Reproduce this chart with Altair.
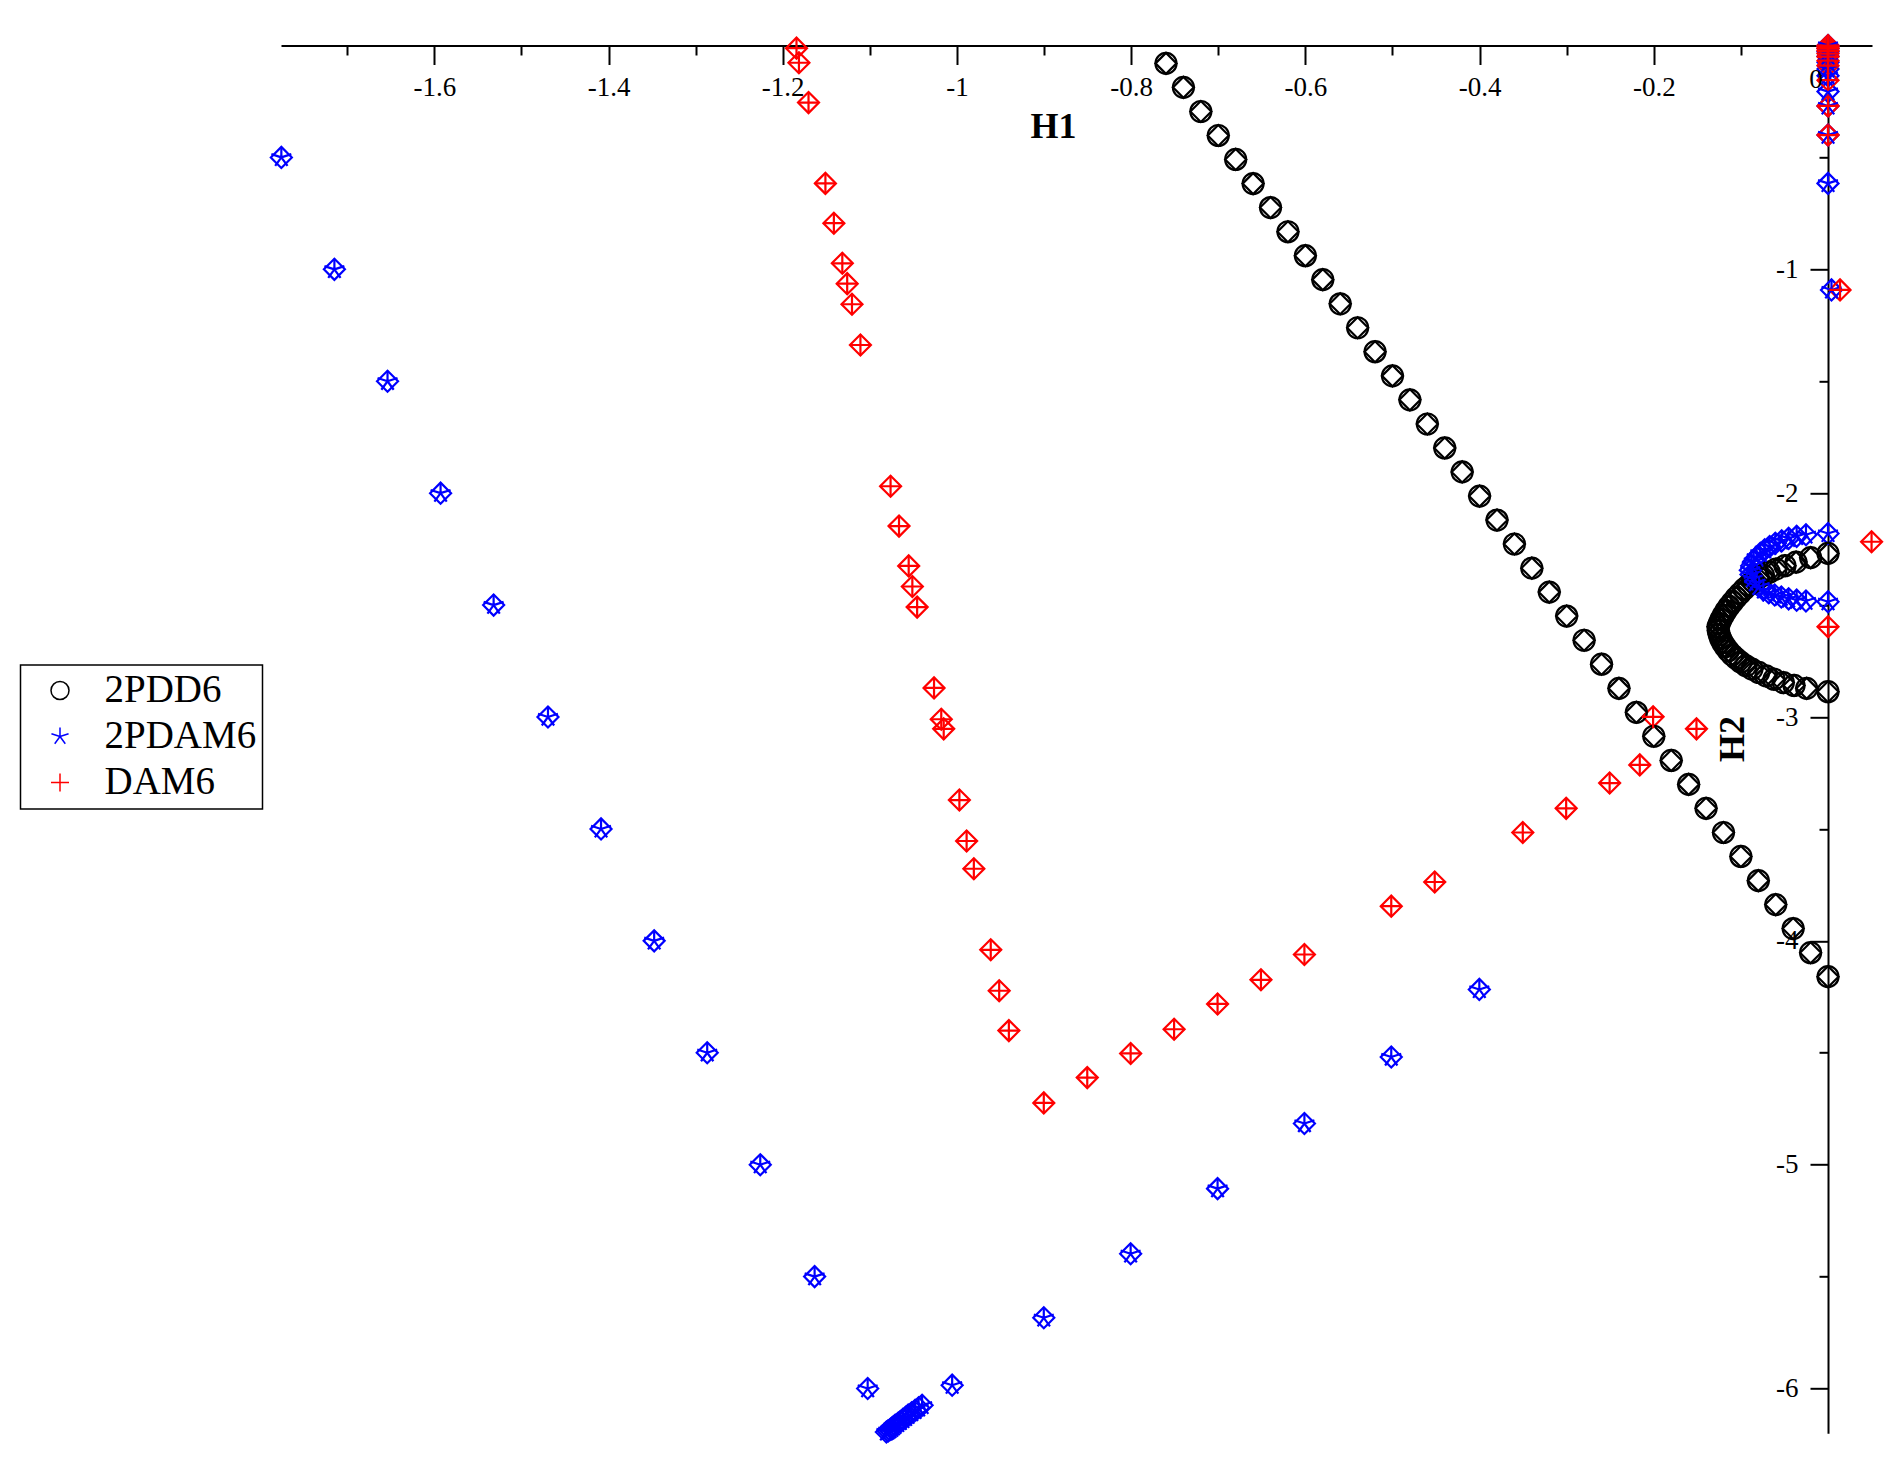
import altair as alt
import pandas as pd

# ---------------- data ----------------
series_names = ["2PDD6", "2PDAM6", "DAM6"]
series_colors = ["#000000", "#0000ff", "#ff0000"]

# 2PDD6 : straight branch + arc near the H2 axis
black_x = [-0.76, -0.74, -0.72, -0.70, -0.68, -0.66, -0.64, -0.62, -0.60, -0.58,
           -0.56, -0.54, -0.52, -0.50, -0.48, -0.46, -0.44, -0.42, -0.40, -0.38,
           -0.36, -0.34, -0.32, -0.30, -0.28, -0.26, -0.24, -0.22, -0.20, -0.18,
           -0.16, -0.14, -0.12, -0.10, -0.08, -0.06, -0.04, -0.02, 0.0,
           0.0, -0.0199, -0.0367, -0.0494, -0.0597, -0.0674, -0.0742, -0.0800, -0.0857, -0.0911,
           -0.0961, -0.1010, -0.1056, -0.1098, -0.1137, -0.1171, -0.1202, -0.1228, -0.1248, -0.1263,
           -0.1259, -0.1248, -0.1232, -0.1209, -0.1179, -0.1144, -0.1102, -0.1056, -0.1003, -0.0941,
           -0.0873, -0.0796, -0.0712, -0.0620, -0.0513, -0.0390, -0.0245, 0.0]
black_y = [-0.080, -0.187, -0.295, -0.402, -0.509, -0.617, -0.724, -0.832, -0.939, -1.046,
           -1.154, -1.261, -1.368, -1.476, -1.583, -1.691, -1.798, -1.905, -2.013, -2.120,
           -2.227, -2.335, -2.442, -2.549, -2.657, -2.764, -2.872, -2.979, -3.086, -3.194,
           -3.301, -3.408, -3.516, -3.623, -3.731, -3.838, -3.945, -4.053, -4.160,
           -2.269, -2.288, -2.308, -2.324, -2.339, -2.353, -2.366, -2.379, -2.394, -2.411,
           -2.428, -2.448, -2.467, -2.487, -2.506, -2.525, -2.545, -2.564, -2.582, -2.597,
           -2.615, -2.633, -2.650, -2.668, -2.686, -2.704, -2.722, -2.738, -2.755, -2.771,
           -2.786, -2.801, -2.816, -2.831, -2.846, -2.859, -2.872, -2.887]

# 2PDAM6
blue_x = [-1.7756, -1.7147, -1.6537, -1.5928, -1.5319, -1.4695, -1.4086, -1.3476, -1.2867, -1.2258,
          -1.1634, -1.1025,
          -1.040, -1.044, -1.048, -1.052, -1.056, -1.059, -1.062, -1.065, -1.068, -1.071,
          -1.073, -1.075, -1.077, -1.079, -1.081,
          -1.0055, -0.9003, -0.8006, -0.7008, -0.6011, -0.5014, -0.4003,
          0.0, 0.0, 0.0, 0.0, 0.0, 0.0, 0.0, 0.0, 0.0, 0.0, 0.0, 0.004,
          0.0, -0.0253, -0.0360, -0.0452, -0.0532, -0.0605, -0.0670, -0.0727, -0.0777, -0.0819,
          -0.0853, -0.0876, -0.0892, -0.0884, -0.0865, -0.0834, -0.0792, -0.0742, -0.0681, -0.0612,
          -0.0536, -0.0452, -0.0360, -0.0253, 0.0]
blue_y = [-0.5, -1.0, -1.5, -2.0, -2.5, -3.0, -3.5, -4.0, -4.5, -5.0,
          -5.5, -6.0,
          -6.075, -6.086, -6.097, -6.108, -6.119, -6.129, -6.138, -6.147, -6.156, -6.164,
          -6.171, -6.178, -6.184, -6.189, -6.194,
          -5.985, -5.684, -5.398, -5.107, -4.816, -4.519, -4.217,
          0.0, -0.012, -0.028, -0.048, -0.075, -0.105, -0.135, -0.206, -0.270, -0.400, -0.616, -1.092,
          -2.180, -2.186, -2.193, -2.202, -2.213, -2.224, -2.238, -2.253, -2.269, -2.287,
          -2.305, -2.324, -2.344, -2.363, -2.382, -2.400, -2.417, -2.432, -2.445, -2.455,
          -2.464, -2.472, -2.478, -2.482, -2.485]

# DAM6
red_x = [-1.1842, -1.1814, -1.1704, -1.1510, -1.1413, -1.1316, -1.1260, -1.1205, -1.1108,
         -1.0762, -1.0665, -1.0554, -1.0512, -1.0457, -1.0263, -1.0180, -1.0152,
         -0.9972, -0.9889, -0.9806, -0.9612, -0.9515, -0.9404, -0.9003,
         -0.8504, -0.8006, -0.7507, -0.7008, -0.6510, -0.6011, -0.5014, -0.4515,
         -0.3504, -0.3006, -0.2507, -0.2161, -0.2008, -0.1510,
         0.0, 0.0, 0.0, 0.0, 0.0, 0.0, 0.0, 0.0, 0.0, 0.0, 0.0,
         0.0138, 0.050, 0.0]
red_y = [-0.012, -0.077, -0.255, -0.616, -0.794, -0.973, -1.064, -1.156, -1.338,
         -1.969, -2.147, -2.325, -2.417, -2.509, -2.870, -3.010, -3.053,
         -3.371, -3.554, -3.678, -4.040, -4.223, -4.401, -4.724,
         -4.611, -4.503, -4.395, -4.282, -4.174, -4.061, -3.845, -3.737,
         -3.516, -3.408, -3.295, -3.214, -2.999, -3.053,
         0.0, -0.006, -0.014, -0.024, -0.036, -0.050, -0.068, -0.090, -0.155, -0.270, -0.400,
         -1.092, -2.217, -2.597]

# axes
x_major_ticks = [-1.6, -1.4, -1.2, -1.0, -0.8, -0.6, -0.4, -0.2]
x_major_labels = ["-1.6", "-1.4", "-1.2", "-1", "-0.8", "-0.6", "-0.4", "-0.2"]
x_minor_ticks = [-1.7, -1.5, -1.3, -1.1, -0.9, -0.7, -0.5, -0.3, -0.1]
y_major_ticks = [-1, -2, -3, -4, -5, -6]
y_major_labels = ["-1", "-2", "-3", "-4", "-5", "-6"]
y_minor_ticks = [-0.5, -1.5, -2.5, -3.5, -4.5, -5.5]
origin_label = ["0"]
x_title = "H1"
y_title = "H2"

x_domain = [-1.776, 0.0505]
y_domain = [-6.2, 0.05]

# ---------------- layout ----------------
W, H = 1591, 1399
plot_left, plot_top = 281.0, 34.3
x_axis_offset = -(0 - y_domain[0]) / (y_domain[1] - y_domain[0]) * H
y_axis_offset = -(0 - x_domain[0]) / (x_domain[1] - x_domain[0]) * W
FONT = "Liberation Serif"

rows = []
for name, xs, ys in [(series_names[0], black_x, black_y),
                     (series_names[1], blue_x, blue_y),
                     (series_names[2], red_x, red_y)]:
    for a, b in zip(xs, ys):
        rows.append({"H1": a, "H2": b, "series": name})
df = pd.DataFrame(rows)
zero_df = pd.DataFrame({"H1": [0.0], "H2": [0.0], "label": origin_label})


def label_expr(vals, labs):
    v = "[" + ",".join(repr(float(t)) for t in vals) + "]"
    l = "[" + ",".join("'" + s + "'" for s in labs) + "]"
    return f"indexof({v}, datum.value) >= 0 ? {l}[indexof({v}, datum.value)] : ''"


def major_test(vals):
    v = "[" + ",".join(repr(float(t)) for t in vals) + "]"
    return f"indexof({v}, datum.value) >= 0"


x_axis = alt.Axis(
    orient="bottom", offset=x_axis_offset, values=x_major_ticks + x_minor_ticks,
    labelExpr=label_expr(x_major_ticks, x_major_labels),
    tickSize={"condition": {"test": major_test(x_major_ticks), "value": 19}, "value": 9.5},
    tickWidth=2, tickColor="black", domainColor="black", domainWidth=2,
    labelFont=FONT, labelFontSize=27, labelColor="black", labelPadding=10,
    labelOverlap=False, labelFlush=False, labelBound=False, grid=False,
    title=x_title, titleFont=FONT, titleFontSize=36, titleFontWeight="bold", titleColor="black",
    titleX=1053 - plot_left, titleY=81, titleAlign="center", titleBaseline="middle", titleAngle=0,
)
y_axis = alt.Axis(
    orient="left", offset=y_axis_offset, values=y_major_ticks + y_minor_ticks,
    labelExpr=label_expr(y_major_ticks, y_major_labels),
    tickSize={"condition": {"test": major_test(y_major_ticks), "value": 18}, "value": 9},
    tickWidth=2, tickColor="black", domainColor="black", domainWidth=2,
    labelFont=FONT, labelFontSize=27, labelColor="black", labelPadding=12,
    labelOverlap=False, labelFlush=False, labelBound=False, grid=False,
    title=y_title, titleFont=FONT, titleFontSize=36, titleFontWeight="bold", titleColor="black",
    titleX=1732.6 - 1828, titleY=738.4 - plot_top, titleAngle=270,
    titleAlign="center", titleBaseline="middle",
)

xs_ = alt.Scale(domain=x_domain, nice=False, zero=False)
ys_ = alt.Scale(domain=y_domain, nice=False, zero=False)
color_scale = alt.Scale(domain=series_names, range=series_colors)
asterisk = "M0,0L0,-1M0,0L0.951,-0.309M0,0L0.588,0.809M0,0L-0.588,0.809M0,0L-0.951,-0.309"
plus = "M-1,0L1,0M0,-1L0,1"
shape_scale = alt.Scale(domain=series_names, range=["circle", asterisk, plus])

legend = alt.Legend(
    orient="none", legendX=20.5 - plot_left, legendY=665 - plot_top, title=None,
    labelFont=FONT, labelFontSize=39, labelColor="black", labelLimit=0,
    symbolSize=324, symbolStrokeWidth=1.5, symbolOffset=14,
    labelOffset=25, padding=6, rowPadding=6,
    strokeColor="black", fillColor="white", cornerRadius=0,
)

X = alt.X("H1:Q", scale=xs_, axis=x_axis)
Y = alt.Y("H2:Q", scale=ys_, axis=y_axis)
C = alt.Color("series:N", scale=color_scale, legend=legend)

diamonds = alt.Chart(df).mark_point(
    shape="diamond", filled=False, size=441, strokeWidth=2.2, opacity=1
).encode(x=X, y=Y, color=C)

symbols = alt.Chart(df).mark_point(
    filled=False, size=441, strokeWidth=2.2, opacity=1
).encode(
    x=X, y=Y, color=C,
    shape=alt.Shape("series:N", scale=shape_scale, legend=legend),
)

zero_text = alt.Chart(zero_df).mark_text(
    font=FONT, fontSize=27, color="black", dx=-12, dy=35, align="center", baseline="middle"
).encode(x=X, y=Y, text="label:N")

chart = alt.layer(diamonds, symbols, zero_text).properties(
    width=W, height=H, background="white",
    padding={"left": plot_left - 8, "top": plot_top - 8, "right": 12, "bottom": 40},
    autosize=alt.AutoSizeParams(type="none"),
).configure_view(stroke="transparent", strokeWidth=0).configure_legend(strokeWidth=1.5)

chart.save("out.html", embed_options={"renderer": "svg", "actions": False})
